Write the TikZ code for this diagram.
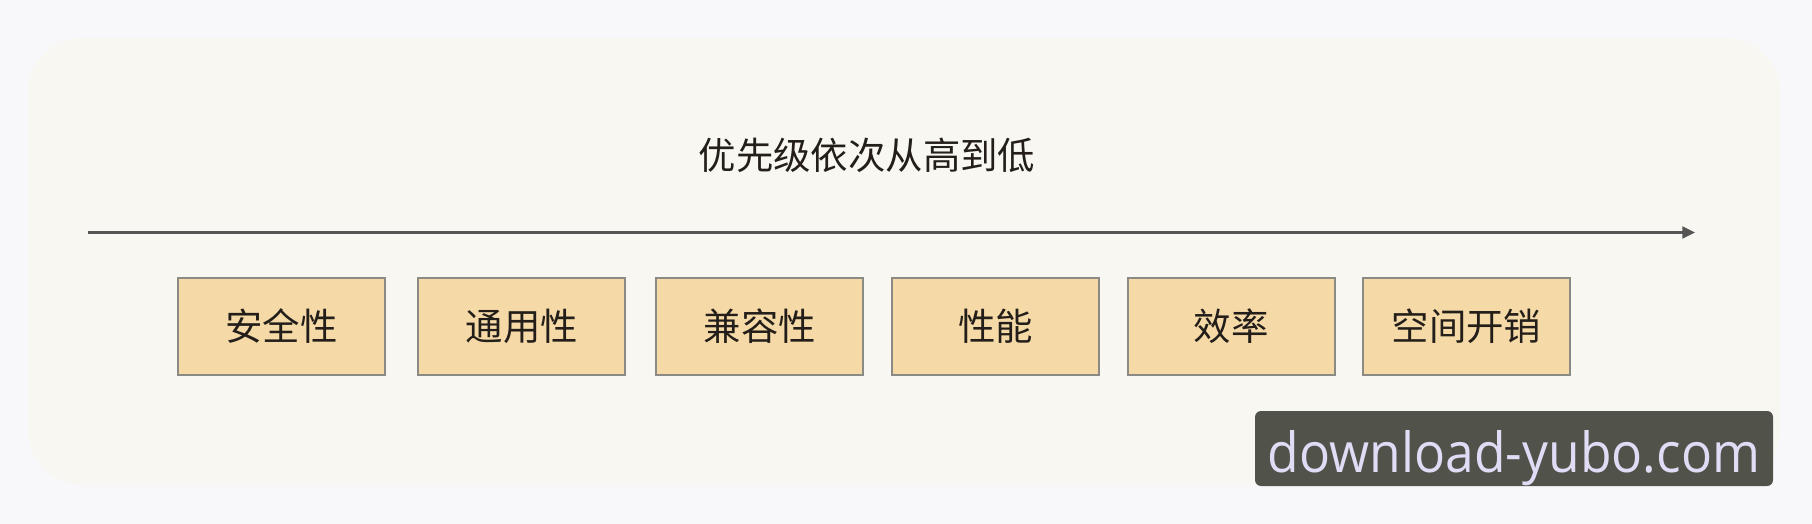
\documentclass[tikz,border=0pt]{standalone}
\usepackage{fontspec}
\usepackage{graphicx}
\usepackage{xcolor}
\setmainfont{Noto Sans CJK SC}
\newfontfamily\wmfont{Open Sans}
\usetikzlibrary{arrows.meta}

\definecolor{pagebg}{HTML}{F8F7FA}
\definecolor{panelbg}{HTML}{F8F7F2}
\definecolor{boxfill}{HTML}{F5D9A7}
\definecolor{boxline}{HTML}{8C8A84}
\definecolor{axisgray}{HTML}{555555}
\definecolor{inkdark}{HTML}{231E1A}
\definecolor{wmbg}{HTML}{51534B}
\definecolor{wmtext}{HTML}{E0DCF5}

\begin{document}
\begin{tikzpicture}[x=0.025cm, y=-0.025cm,
    >={Stealth[length=9pt, width=8.5pt, inset=0pt]},
    prio/.style={draw=boxline, line width=1.4pt, fill=boxfill, text=inkdark,
                 minimum width=5.175cm, minimum height=2.425cm, inner sep=0pt,
                 font=\fontsize{26.6}{30}\selectfont}]
                    % page and panel
                    \fill[pagebg] (0,0) rectangle (1812,524);
                    \useasboundingbox (0,0) rectangle (1812,524);
                    \fill[panelbg, rounded corners=1.375cm] (28,38) rectangle (1780,485);

                    \node[text=inkdark, font=\fontsize{26.6}{30}\selectfont] (T) at (867,155) {优先级依次从高到低};

                    \coordinate (S) at (88,232.5);
                    \coordinate (E) at (1695,232.5);
                    \draw[->, axisgray, line width=1.5pt] (S) -- (E);

                    \node[prio] (P1) at (281.5,326.5) {安全性};
                    \node[prio] (P2) at (521.8,326.5) {通用性};
                    \node[prio] (P3) at (759.8,326.5) {兼容性};
                    \node[prio] (P4) at (995.5,326.5) {性能};
                    \node[prio] (P5) at (1231.3,326.5) {效率};
                    \node[prio] (P6) at (1466.5,326.5) {空间开销};

                    % watermark
                    \fill[wmbg, rounded corners=0.15cm] (1255,411) rectangle (1773,486);
                    \node[text=wmtext, anchor=base, inner sep=0pt] (W) at (1514,472)
                        {\resizebox{350pt}{29.9pt}{\wmfont download-yubo.com}};
                \end{tikzpicture}
\end{document}
